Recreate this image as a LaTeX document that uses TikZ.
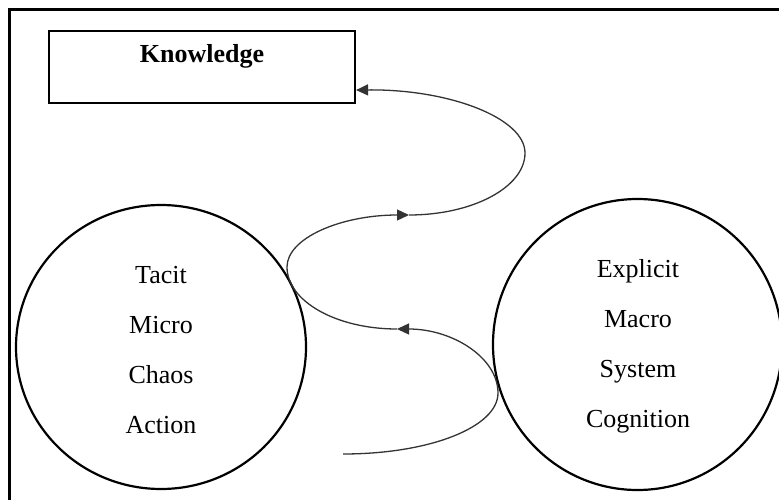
\documentclass[tikz,border=0pt]{standalone}
\usepackage{fontspec}
\setmainfont{Liberation Serif}
\usetikzlibrary{arrows.meta, shapes.geometric}

\tikzset{
  frame/.style={draw=black, line width=2.1pt},
  topic/.style={draw=black, line width=2.2pt, ellipse, inner sep=0pt, outer sep=0pt},
  word/.style={anchor=base, font=\fontsize{26}{30}\selectfont},
  headbox/.style={draw=black, line width=2.1pt, minimum width=306pt, minimum height=72pt},
  flow/.style={draw=black!80, line width=1.3pt, -{Triangle[length=12pt,width=11pt]}},
}

\begin{document}
\begin{tikzpicture}[x=1pt, y=1pt]
  \useasboundingbox (0,0) rectangle (779,499);
  \clip (0,0) rectangle (779,499);

  % outer frame (runs past the right and bottom edges)
  \draw[frame] (9.5,-20) -- (9.5,489.5) -- (800,489.5);

  % heading box
  \node[headbox] (know) at (202,432) {};
  \node[word, font=\fontsize{26}{30}\selectfont\bfseries] (knowtxt) at (202,436) {Knowledge};

  % the two spheres of knowledge
  \node[topic, minimum width=290pt, minimum height=284pt] (tacitzone) at (161,152) {};
  \node[topic, minimum width=289pt, minimum height=291pt] (explicitzone) at (637.5,154.5) {};

  \node[word] (tacit)  at (161,216) {Tacit};
  \node[word] (micro)  at (161,166) {Micro};
  \node[word] (chaos)  at (161,116) {Chaos};
  \node[word] (action) at (161,66)  {Action};

  \node[word] (explicit)  at (638,222) {Explicit};
  \node[word] (macro)     at (638,172) {Macro};
  \node[word] (system)    at (638,122) {System};
  \node[word] (cognition) at (638,72)  {Cognition};

  % spiral path from action towards knowledge
  \coordinate (s)  at (343,45);
  \coordinate (p1) at (397,170);
  \coordinate (p2) at (409,284);
  \coordinate (k)  at ([yshift=14pt]know.south east);

  \draw[flow] (s) .. controls (430,45) and (498,72) .. (498,106)
                  .. controls (498,141) and (453,170) .. (p1);
  \draw[flow] (p1) .. controls (336,170) and (287,198) .. (287,232)
                   .. controls (287,261) and (341,284) .. (p2);
  \draw[flow] (p2) .. controls (473,284) and (525,312) .. (525,346)
                   .. controls (525,381) and (449,410) .. (k);
\end{tikzpicture}
\end{document}
